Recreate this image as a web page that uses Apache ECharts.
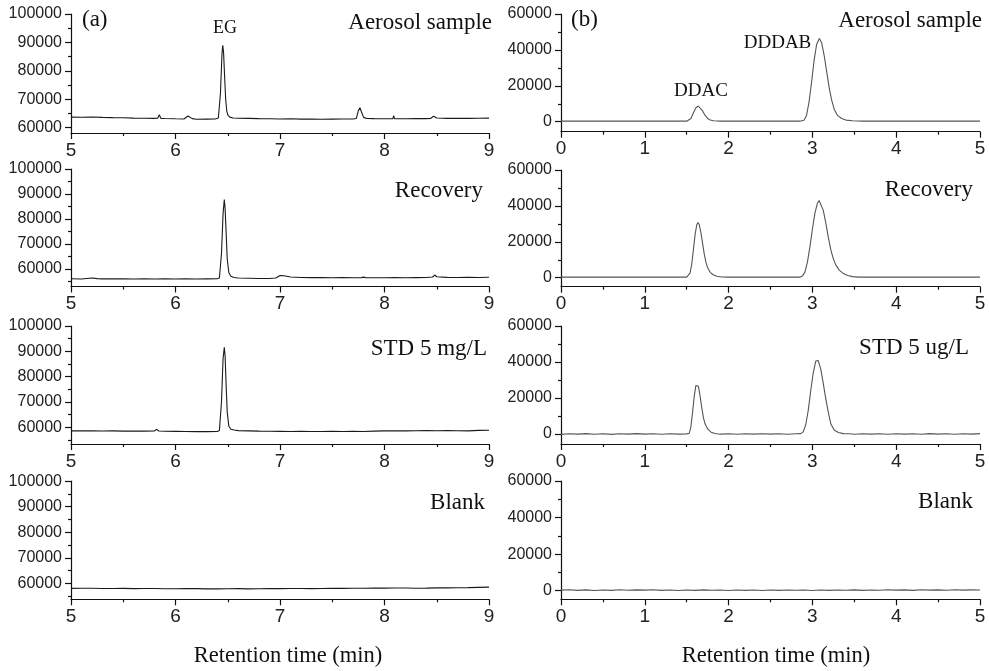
<!DOCTYPE html>
<html>
<head>
<meta charset="utf-8">
<script src="https://cdn.jsdelivr.net/npm/echarts@6/dist/echarts.min.js"></script>
<style>
html,body{margin:0;padding:0;background:#fff;}
#chart{width:989px;height:671px;}
</style>
</head>
<body>
<div id="chart"></div>
<script>
// ---------- data ----------
const panelLabels = ['Aerosol sample', 'Recovery', 'STD 5 mg/L', 'Blank'];
const panelLabelsB = ['Aerosol sample', 'Recovery', 'STD 5 ug/L', 'Blank'];
const peakLabels = ['EG', 'DDAC', 'DDDAB'];
const xTitle = 'Retention time (min)';

const leftTicks = [60000, 70000, 80000, 90000, 100000];
const leftMinorTicks = [55000, 65000, 75000, 85000, 95000];
const rightTicks = [0, 20000, 40000, 60000];
const rightMinorTicks = [10000, 30000, 50000];
const leftTimeRange = [5, 9];
const rightTimeRange = [0, 5];
const leftSignalMin = [58100, 52900, 53400, 53730];
const leftSignalMax = 100000;
const rightSignalMin = [-5570, -5010, -5560, -4700];
const rightSignalMax = 60000;

// (a) EG chromatograms
const egAerosol = [[5.00,63700],[5.10,63650],[5.20,63750],[5.30,63600],[5.40,63500],[5.50,63450],[5.60,63350],[5.70,63300],[5.80,63250],[5.83,63300],[5.845,64500],[5.86,63250],[5.90,63200],[6.00,63100],[6.08,63050],[6.12,64100],[6.16,63150],[6.20,62950],[6.30,63000],[6.38,63050],[6.41,63400],[6.43,72000],[6.445,86000],[6.452,89000],[6.46,86500],[6.47,78000],[6.48,70000],[6.49,66000],[6.50,64500],[6.52,63700],[6.55,63400],[6.60,63300],[6.70,63250],[6.80,63150],[6.90,63100],[7.00,63050],[7.10,63100],[7.20,63000],[7.30,63050],[7.40,62950],[7.50,63000],[7.60,63050],[7.70,63050],[7.73,63200],[7.75,66000],[7.765,67000],[7.78,65500],[7.80,63600],[7.83,63200],[7.90,63150],[8.00,63100],[8.08,63150],[8.088,64200],[8.095,63150],[8.20,63100],[8.30,63150],[8.40,63150],[8.44,63200],[8.47,64000],[8.50,63400],[8.60,63250],[8.70,63300],[8.80,63250],[8.90,63300],[9.00,63350]];
const egRecovery = [[5.00,56000],[5.10,55900],[5.20,56300],[5.25,56050],[5.30,55950],[5.40,56000],[5.50,55950],[5.60,55900],[5.70,55950],[5.80,55900],[5.90,55950],[6.00,55900],[6.10,55950],[6.20,55900],[6.30,55950],[6.40,56000],[6.42,56300],[6.44,66000],[6.455,82000],[6.467,87800],[6.475,84000],[6.485,74000],[6.495,64000],[6.51,58500],[6.53,57000],[6.56,56500],[6.60,56300],[6.70,56200],[6.80,56100],[6.90,56100],[6.96,56300],[7.00,57300],[7.04,57200],[7.10,56700],[7.20,56500],[7.30,56450],[7.40,56500],[7.50,56400],[7.60,56450],[7.70,56400],[7.78,56450],[7.80,56650],[7.82,56450],[7.90,56400],[8.00,56400],[8.10,56450],[8.20,56400],[8.30,56450],[8.40,56500],[8.46,56700],[8.48,57500],[8.50,56800],[8.60,56550],[8.70,56500],[8.80,56550],[8.90,56500],[9.00,56600]];
const egStd = [[5.00,58600],[5.10,58650],[5.20,58600],[5.30,58550],[5.40,58600],[5.50,58500],[5.60,58550],[5.70,58500],[5.80,58600],[5.82,59200],[5.84,58550],[5.90,58450],[6.00,58400],[6.10,58350],[6.20,58300],[6.30,58300],[6.40,58350],[6.42,58700],[6.44,70000],[6.455,87000],[6.467,91600],[6.475,88000],[6.485,76000],[6.495,66000],[6.51,60500],[6.53,59200],[6.56,58900],[6.60,58700],[6.70,58600],[6.80,58500],[6.90,58450],[7.00,58400],[7.10,58350],[7.20,58400],[7.30,58350],[7.40,58350],[7.50,58400],[7.60,58350],[7.70,58400],[7.80,58350],[7.90,58500],[8.00,58600],[8.10,58650],[8.20,58600],[8.30,58650],[8.40,58700],[8.50,58650],[8.60,58700],[8.70,58650],[8.80,58600],[8.90,58800],[9.00,58850]];
const egBlank = [[5.0,58000],[5.1,58080],[5.2,58050],[5.3,57980],[5.4,57950],[5.5,58000],[5.6,57900],[5.7,57960],[5.8,57950],[5.9,57880],[6.0,57850],[6.1,57920],[6.2,57900],[6.3,57820],[6.4,57800],[6.5,57880],[6.6,57900],[6.7,57830],[6.8,57850],[6.9,57920],[7.0,57900],[7.1,57960],[7.2,57950],[7.3,57900],[7.4,57950],[7.5,58020],[7.6,58000],[7.7,58060],[7.8,58050],[7.9,58120],[8.0,58100],[8.1,58180],[8.2,58150],[8.3,58080],[8.4,58100],[8.5,58220],[8.6,58200],[8.7,58280],[8.8,58300],[8.9,58420],[9.0,58500]];

// (b) DDAC / DDDAB chromatograms
const qacAerosol = [[0.0,300],[0.5,300],[1.0,300],[1.5,300],[1.52,400],[1.55,1800],[1.58,5000],[1.61,7800],[1.638,8750],[1.66,8200],[1.69,6000],[1.72,3500],[1.75,1800],[1.78,900],[1.82,500],[1.9,300],[2.0,300],[2.5,300],[2.85,300],[2.90,800],[2.93,3500],[2.96,11000],[2.99,22000],[3.02,34000],[3.05,43000],[3.083,46300],[3.11,44000],[3.14,37000],[3.17,28000],[3.20,19000],[3.23,12000],[3.26,7000],[3.30,3500],[3.35,1800],[3.40,900],[3.48,500],[3.6,300],[4.0,300],[4.5,300],[5.0,300]];
const qacRecovery = [[0.0,300],[0.5,300],[1.0,300],[1.5,300],[1.52,500],[1.54,2500],[1.56,7500],[1.58,15500],[1.60,24000],[1.62,29500],[1.635,30800],[1.65,29500],[1.67,25000],[1.69,19000],[1.71,13000],[1.73,8500],[1.75,5500],[1.78,3000],[1.82,1500],[1.86,800],[1.92,400],[2.0,300],[2.5,300],[2.85,300],[2.88,900],[2.91,3000],[2.94,8500],[2.97,17000],[3.00,27000],[3.03,36000],[3.06,41500],[3.08,43000],[3.10,42000],[3.13,37500],[3.16,30500],[3.19,22500],[3.22,15500],[3.25,10500],[3.28,7000],[3.32,4200],[3.37,2300],[3.42,1200],[3.48,600],[3.55,350],[4.0,300],[4.5,300],[5.0,300]];
const qacStd = [[0.0,-200],[0.1,100],[0.2,-100],[0.3,200],[0.4,-150],[0.5,100],[0.6,-200],[0.7,150],[0.8,-100],[0.9,200],[1.0,-50],[1.1,150],[1.2,-150],[1.3,100],[1.4,-100],[1.5,50],[1.53,400],[1.55,4000],[1.57,12000],[1.59,21000],[1.61,27000],[1.625,27800],[1.64,26500],[1.66,21000],[1.68,14500],[1.70,9000],[1.72,5500],[1.75,2800],[1.79,1000],[1.84,300],[1.9,-100],[2.0,150],[2.1,-150],[2.2,100],[2.3,-100],[2.4,150],[2.5,-50],[2.6,100],[2.7,-150],[2.8,100],[2.86,200],[2.89,1200],[2.92,5000],[2.95,13000],[2.98,24000],[3.01,34000],[3.04,40500],[3.055,41500],[3.07,40800],[3.10,36000],[3.13,28000],[3.16,19500],[3.19,12000],[3.22,5500],[3.26,2200],[3.31,800],[3.37,200],[3.45,100],[3.5,-150],[3.6,150],[3.7,-100],[3.8,100],[3.9,-150],[4.0,150],[4.1,-100],[4.2,100],[4.3,-150],[4.4,200],[4.5,-100],[4.6,150],[4.7,-150],[4.8,100],[4.9,-100],[5.0,200]];
const qacBlank = [[0.0,300],[0.1,500],[0.2,200],[0.3,450],[0.4,150],[0.5,400],[0.6,200],[0.7,500],[0.8,250],[0.9,450],[1.0,300],[1.1,500],[1.2,200],[1.3,400],[1.4,150],[1.5,350],[1.6,200],[1.7,450],[1.8,250],[1.9,400],[2.0,150],[2.1,350],[2.2,200],[2.3,400],[2.4,150],[2.5,350],[2.6,200],[2.7,400],[2.8,250],[2.9,350],[3.0,150],[3.1,400],[3.2,200],[3.3,350],[3.4,250],[3.5,450],[3.6,200],[3.7,400],[3.8,250],[3.9,500],[4.0,300],[4.1,450],[4.2,200],[4.3,500],[4.4,300],[4.5,450],[4.6,250],[4.7,500],[4.8,300],[4.9,450],[5.0,350]];

const leftSeries = [egAerosol, egRecovery, egStd, egBlank];
const rightSeries = [qacAerosol, qacRecovery, qacStd, qacBlank];

// ---------- layout ----------
const leftGridX = 71, leftGridW = 418;
const rightGridX = 561, rightGridW = 419;
const leftTops = [14, 169, 326, 481.2];
const leftBottoms = [133, 286.5, 444, 599.3];
const rightTops = [14, 170, 326, 481];
const rightBottoms = [131.7, 286.7, 444, 599.3];

const labelFont = 'Liberation Sans, Arial, sans-serif';
const serifFont = 'Liberation Serif, Times New Roman, serif';

const grids = [], xAxes = [], yAxes = [], series = [];

function addPanel(left, width, top, bottom, xr, ymin, ymax, ticks, minor, data, color) {
  const gi = grids.length;
  grids.push({left: left, top: top, width: width, height: bottom - top, containLabel: false});
  xAxes.push({
    type: 'value', gridIndex: gi, min: xr[0], max: xr[1], interval: 1,
    axisLine: {show: true, onZero: false, lineStyle: {color: '#111', width: 1.2}},
    axisTick: {show: true, inside: false, length: 6, lineStyle: {color: '#111', width: 1.2}},
    minorTick: {show: true, splitNumber: 2, length: 3, lineStyle: {color: '#111', width: 1.2}},
    axisLabel: {show: true, margin: 8, fontSize: 19, fontFamily: labelFont, color: '#222'},
    splitLine: {show: false}
  });
  const yi = yAxes.length;
  yAxes.push({
    type: 'value', gridIndex: gi, min: ymin, max: ymax, position: 'left',
    axisLine: {show: true, onZero: false, lineStyle: {color: '#111', width: 1.2}},
    axisTick: {show: true, inside: false, length: 6, customValues: ticks, lineStyle: {color: '#111', width: 1.2}},
    axisLabel: {show: true, margin: 9, fontSize: 16, fontFamily: labelFont, color: '#222', customValues: ticks,
      formatter: v => String(Math.round(v))},
    splitLine: {show: false}
  });
  yAxes.push({
    type: 'value', gridIndex: gi, min: ymin, max: ymax, position: 'left',
    axisLine: {show: false, onZero: false},
    axisTick: {show: true, inside: false, length: 3, customValues: minor.filter(v => v > ymin && v < ymax), lineStyle: {color: '#111', width: 1.2}},
    axisLabel: {show: false},
    splitLine: {show: false}
  });
  series.push({
    type: 'line', xAxisIndex: gi, yAxisIndex: yi, data: data,
    showSymbol: false, symbol: 'none', smooth: false,
    lineStyle: {color: color, width: 1.1}, silent: true
  });
}

for (let r = 0; r < 4; r++) {
  addPanel(leftGridX, leftGridW, leftTops[r], leftBottoms[r], leftTimeRange, leftSignalMin[r], leftSignalMax, leftTicks, leftMinorTicks, leftSeries[r], '#1a1a1a');
  addPanel(rightGridX, rightGridW, rightTops[r], rightBottoms[r], rightTimeRange, rightSignalMin[r], rightSignalMax, rightTicks, rightMinorTicks, rightSeries[r], '#555');
}

function txt(x, y, s, size, align) {
  return {type: 'text', x: x, y: y, silent: true,
    style: {text: s, fill: '#111', font: size + 'px ' + serifFont, align: align, verticalAlign: 'middle'}};
}
const leftLabelPos = [[492, 22.9], [483, 191.4], [487, 349.2], [485, 503]];
const rightLabelPos = [[982, 21.2], [973, 189.7], [969, 348.2], [973, 502]];
const graphics = [];
for (let r = 0; r < 4; r++) {
  graphics.push(txt(leftLabelPos[r][0], leftLabelPos[r][1], panelLabels[r], 23, 'right'));
  graphics.push(txt(rightLabelPos[r][0], rightLabelPos[r][1], panelLabelsB[r], 23, 'right'));
}
graphics.push(txt(82, 20, '(a)', 23, 'left'));
graphics.push(txt(571, 20, '(b)', 23, 'left'));
graphics.push(txt(225, 27.9, peakLabels[0], 18, 'center'));
graphics.push(txt(701, 91.5, peakLabels[1], 19, 'center'));
graphics.push(txt(777.5, 43.5, peakLabels[2], 19, 'center'));
graphics.push(txt(288, 656, xTitle, 22.5, 'center'));
graphics.push(txt(776, 656, xTitle, 22.5, 'center'));

const chart = echarts.init(document.getElementById('chart'), null, {renderer: 'canvas'});
chart.setOption({
  animation: false,
  backgroundColor: '#fff',
  grid: grids,
  xAxis: xAxes,
  yAxis: yAxes,
  series: series,
  graphic: graphics
});
</script>
</body>
</html>
